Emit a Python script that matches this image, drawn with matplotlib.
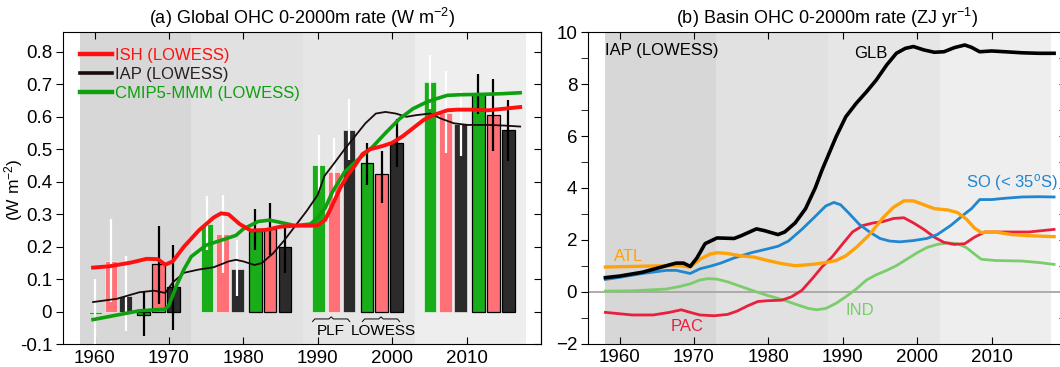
# plot.py
# Two-panel OHC rate figure: (a) global 0-2000m rate bars + LOWESS curves,
# (b) basin OHC 0-2000m rate from IAP (LOWESS).

import matplotlib
matplotlib.use("Agg")

import matplotlib.pyplot as plt
from matplotlib.lines import Line2D

plt.rcParams["font.family"] = ["Liberation Sans", "DejaVu Sans"]
plt.rcParams["mathtext.default"] = "regular"


# ---- shared period shading ----
PERIOD_STARTS = [1958, 1973, 1988, 2003]
PERIOD_LEN = 15
PERIOD_COLORS = ["#d7d7d7", "#e1e1e1", "#e6e6e6", "#eeeeee"]

# ---- panel (a) bars: one value per period ----
plf_cmip = [-0.007, 0.27, 0.453, 0.707]
plf_ish = [0.157, 0.24, 0.43, 0.612]
plf_iap = [0.048, 0.133, 0.56, 0.577]
low_cmip = [-0.01, 0.25, 0.458, 0.67]
low_ish = [0.146, 0.255, 0.425, 0.607]
low_iap = [0.075, 0.2, 0.52, 0.56]

# error bar ranges (low, high)
plf_cmip_err = [(-0.12, 0.10), (0.19, 0.355), (0.37, 0.543), (0.625, 0.79)]
plf_ish_err = [(0.03, 0.287), (0.12, 0.36), (0.33, 0.536), (0.49, 0.74)]
plf_iap_err = [(-0.058, 0.172), (0.05, 0.22), (0.468, 0.656), (0.48, 0.68)]
low_cmip_err = [(-0.073, 0.06), (0.19, 0.315), (0.39, 0.52), (0.61, 0.733)]
low_ish_err = [(0.025, 0.265), (0.175, 0.335), (0.335, 0.496), (0.495, 0.717)]
low_iap_err = [(-0.055, 0.205), (0.12, 0.275), (0.445, 0.594), (0.465, 0.653)]

# ---- panel (a) LOWESS curves ----
ish_years = [1959.8, 1962, 1965, 1967, 1968.5, 1969.5, 1970.5, 1972, 1974, 1976,
             1977, 1978, 1979.5, 1981, 1983, 1985, 1987, 1989, 1990, 1991,
             1992, 1993, 1994, 1995, 1996, 1997, 1998.7, 2000, 2001.4, 2002.8,
             2004.2, 2005.5, 2007.4, 2008.7, 2010.6, 2012.9, 2015.1, 2017.2]
ish_vals = [0.136, 0.14, 0.152, 0.163, 0.162, 0.145, 0.155, 0.2, 0.25, 0.29,
            0.303, 0.3, 0.27, 0.25, 0.252, 0.262, 0.265, 0.265, 0.266, 0.283,
            0.33, 0.38, 0.42, 0.45, 0.485, 0.5, 0.51, 0.52, 0.54, 0.565,
            0.59, 0.605, 0.62, 0.622, 0.622, 0.62, 0.625, 0.63]

iap_years = [1959.8, 1963, 1966, 1968, 1969.5, 1970.5, 1972, 1974, 1976, 1978,
             1979, 1980, 1981.5, 1982.5, 1984, 1985.5, 1987, 1988.5, 1990, 1990.9,
             1992.3, 1993.6, 1995, 1996.4, 1997.8, 1999.1, 2000.5, 2001.9, 2003.2, 2005.1,
             2006.5, 2008.3, 2010.1, 2012.9, 2015.1, 2017.2]
iap_vals = [0.03, 0.04, 0.06, 0.065, 0.058, 0.09, 0.12, 0.13, 0.137, 0.155,
            0.16, 0.155, 0.144, 0.15, 0.18, 0.22, 0.265, 0.31, 0.36, 0.418,
            0.46, 0.5, 0.54, 0.58, 0.61, 0.615, 0.61, 0.6, 0.605, 0.61,
            0.595, 0.58, 0.575, 0.575, 0.573, 0.57]

cmip_years = [1959.8, 1963, 1966, 1969.5, 1970, 1971, 1972, 1973, 1975, 1977,
              1979, 1980, 1982, 1983.5, 1985, 1987, 1989, 1990, 1991, 1992,
              1993.6, 1995.5, 1997.3, 1999.1, 2001, 2002.8, 2004.6, 2006, 2007.4, 2009.2,
              2012, 2014.7, 2017.2]
cmip_vals = [-0.024, -0.01, 0.003, 0.008, 0.02, 0.08, 0.13, 0.17, 0.205, 0.22,
             0.235, 0.255, 0.278, 0.282, 0.275, 0.265, 0.27, 0.29, 0.32, 0.37,
             0.43, 0.47, 0.506, 0.55, 0.594, 0.625, 0.645, 0.656, 0.666, 0.668,
             0.669, 0.671, 0.674]

# ---- panel (b) basin curves ----
glb_years = [1958.1, 1960, 1963.1, 1966.3, 1967.6, 1968.6, 1969.5, 1970.4, 1971.5, 1973.1,
             1975.4, 1976.3, 1978.4, 1979.5, 1981.3, 1982.2, 1983.6, 1985, 1986.3, 1987.2,
             1989.1, 1990.4, 1991.8, 1993.2, 1994.5, 1995.9, 1997.2, 1998.4, 1999.5, 2000.9,
             2002.3, 2003.6, 2005, 2006.4, 2007.3, 2008.4, 2010, 2011.8, 2014.1, 2016.4,
             2018.4]
glb_vals = [0.54, 0.6, 0.75, 1.0, 1.1, 1.1, 0.97, 1.3, 1.85, 2.07,
            2.05, 2.15, 2.42, 2.35, 2.2, 2.3, 2.65, 3.2, 4.0, 4.68,
            5.97, 6.74, 7.26, 7.71, 8.16, 8.74, 9.19, 9.38, 9.45, 9.32,
            9.23, 9.25, 9.41, 9.51, 9.42, 9.25, 9.28, 9.25, 9.21, 9.19,
            9.19]

so_years = [1958.1, 1960, 1963.1, 1966.3, 1967.6, 1969.5, 1970.8, 1972.2, 1973.6, 1975.4,
            1977.7, 1979.9, 1981.3, 1982.7, 1984.5, 1986.3, 1987.7, 1988.8, 1989.7, 1990.9,
            1992.2, 1993.6, 1995, 1996.3, 1997.7, 1999.5, 2001.3, 2002.7, 2004.5, 2006.4,
            2007.3, 2008.4, 2010, 2011.8, 2014.1, 2016.4, 2018.4]
so_vals = [0.47, 0.55, 0.7, 0.82, 0.82, 0.7, 0.88, 0.98, 1.1, 1.3,
           1.5, 1.65, 1.75, 1.95, 2.4, 2.9, 3.3, 3.44, 3.35, 3.0,
           2.6, 2.3, 2.05, 1.95, 1.92, 1.97, 2.05, 2.2, 2.55, 3.0,
           3.2, 3.55, 3.55, 3.6, 3.65, 3.66, 3.65]

atl_years = [1958.1, 1961.7, 1966.3, 1968.1, 1969.5, 1970.8, 1972.2, 1973.1, 1974.5, 1976.3,
             1978.1, 1979.9, 1981.8, 1983.6, 1985.9, 1987.7, 1989.1, 1990.4, 1991.8, 1993.6,
             1995.4, 1996.8, 1998.2, 1999.5, 2000.9, 2002.3, 2004.1, 2005.4, 2006.6, 2007.7,
             2008.6, 2010.5, 2012.7, 2015.5, 2018.4]
atl_vals = [0.95, 0.97, 1.0, 1.0, 0.95, 1.25, 1.45, 1.5, 1.47, 1.38,
            1.33, 1.2, 1.08, 1.0, 1.05, 1.12, 1.2, 1.38, 1.7, 2.2,
            2.85, 3.25, 3.5, 3.5, 3.35, 3.2, 3.15, 3.05, 2.8, 2.45,
            2.28, 2.3, 2.2, 2.15, 2.12]

pac_years = [1958.1, 1961.7, 1964.5, 1966.7, 1968.3, 1969.5, 1970.8, 1972.7, 1974.5, 1975.8,
             1977.2, 1978.6, 1979.9, 1981.8, 1983.1, 1984.5, 1985.9, 1987.2, 1988.6, 1990,
             1991.3, 1992.7, 1994.1, 1995.4, 1996.8, 1998.2, 1999.5, 2000.9, 2002.3, 2003.6,
             2005, 2006.4, 2007.7, 2009.1, 2011.8, 2015, 2018.4]
pac_vals = [-0.8, -0.9, -0.9, -0.8, -0.7, -0.8, -0.9, -0.93, -0.88, -0.75,
            -0.55, -0.38, -0.35, -0.33, -0.2, 0.05, 0.5, 0.95, 1.35, 1.85,
            2.3, 2.55, 2.65, 2.7, 2.82, 2.85, 2.65, 2.4, 2.1, 1.9,
            1.82, 1.85, 2.1, 2.3, 2.3, 2.3, 2.4]

ind_years = [1958.1, 1961.7, 1966.3, 1968.1, 1969.5, 1970.8, 1971.9, 1973.1, 1974.5, 1976.3,
             1978.1, 1979.9, 1981.8, 1983.6, 1985.4, 1986.5, 1987.7, 1989.1, 1990.4, 1991.8,
             1993.2, 1994.5, 1995.9, 1997.2, 1998.6, 2000, 2001.3, 2002.7, 2004.1, 2005.4,
             2006.6, 2007.7, 2008.6, 2010.5, 2014.1, 2016.4, 2018.4]
ind_vals = [0.02, 0.03, 0.1, 0.2, 0.3, 0.45, 0.5, 0.48, 0.38, 0.2,
            0.02, -0.15, -0.3, -0.48, -0.65, -0.7, -0.65, -0.45, -0.2, 0.1,
            0.45, 0.65, 0.82, 1.0, 1.25, 1.5, 1.7, 1.82, 1.88, 1.85,
            1.7, 1.45, 1.25, 1.2, 1.18, 1.12, 1.05]

# bar layout inside each 15-yr period
BAR_OFFSETS = [2.1, 4.2, 6.2, 8.6, 10.6, 12.6]
BAR_WIDTH = 1.7

GREEN_BAR = "#19ad19"
PINK_BAR = "#ff7177"
BLACK_BAR = "#2b2b2b"

XLIM = (1955.8, 2020.0)
TICK_FS = 13.5


def shade_periods(ax):
    for start, color in zip(PERIOD_STARTS, PERIOD_COLORS):
        ax.axvspan(start, start + PERIOD_LEN, color=color, lw=0, zorder=0)


def draw_bars(ax, values, errors, idx, color, edge, err_color, edge_lw):
    xs = [s + BAR_OFFSETS[idx] for s in PERIOD_STARTS]
    ax.bar(xs, values, width=BAR_WIDTH, color=color, edgecolor=edge,
           linewidth=edge_lw, zorder=2)
    for x, (lo, hi) in zip(xs, errors):
        ax.plot([x, x], [lo, hi], color=err_color, lw=1.6, zorder=3,
                solid_capstyle="butt")


def draw_brace(ax, x0, x1, y, h):
    xm = (x0 + x1) / 2
    ax.plot([x0, x0 + 0.3, xm - 0.3, xm, xm + 0.3, x1 - 0.3, x1],
            [y - h, y, y, y + h * 0.8, y, y, y - h],
            color="black", lw=0.7, zorder=4, clip_on=False)


fig = plt.figure(figsize=(10.6, 3.67), dpi=100)

# ---------------- panel (a) ----------------
ax1 = fig.add_axes([63.3 / 1060, (367 - 344.3) / 367, (541 - 63.3) / 1060, 312 / 367])
shade_periods(ax1)

draw_bars(ax1, plf_cmip, plf_cmip_err, 0, GREEN_BAR, "white", "white", 0.4)
draw_bars(ax1, plf_ish, plf_ish_err, 1, PINK_BAR, "white", "white", 0.4)
draw_bars(ax1, plf_iap, plf_iap_err, 2, BLACK_BAR, "white", "white", 0.4)
draw_bars(ax1, low_cmip, low_cmip_err, 3, GREEN_BAR, "black", "black", 0.9)
draw_bars(ax1, low_ish, low_ish_err, 4, PINK_BAR, "black", "black", 0.9)
draw_bars(ax1, low_iap, low_iap_err, 5, BLACK_BAR, "black", "black", 0.9)

ax1.plot(iap_years, iap_vals, color="#1a0b0b", lw=1.3, zorder=5)
ax1.plot(cmip_years, cmip_vals, color="#0ea00e", lw=2.6, zorder=6)
ax1.plot(ish_years, ish_vals, color="#ff1010", lw=2.8, zorder=7)

# PLF / LOWESS labels under the 1988-2003 period
p3 = PERIOD_STARTS[2]
draw_brace(ax1, p3 + BAR_OFFSETS[0] - 0.8, p3 + BAR_OFFSETS[2] + 0.1, -0.022, 0.008)
draw_brace(ax1, p3 + BAR_OFFSETS[3] - 0.6, p3 + BAR_OFFSETS[5] + 0.4, -0.022, 0.008)
ax1.text(p3 + BAR_OFFSETS[1] - 0.5, -0.038, "PLF",
         ha="center", va="top", fontsize=11)
ax1.text(p3 + BAR_OFFSETS[4] + 0.2, -0.038, "LOWESS",
         ha="center", va="top", fontsize=11)

ax1.set_xlim(*XLIM)
ax1.set_ylim(-0.1, 0.86)
ax1.set_xticks([1960, 1970, 1980, 1990, 2000, 2010])
y_ticks_a = [-0.1, 0, 0.1, 0.2, 0.3, 0.4, 0.5, 0.6, 0.7, 0.8]
ax1.set_yticks(y_ticks_a)
ax1.set_yticklabels(["-0.1", "0", "0.1", "0.2", "0.3", "0.4", "0.5", "0.6", "0.7", "0.8"])
ax1.tick_params(axis="x", direction="in", top=True, bottom=True, length=5,
                labelsize=TICK_FS, pad=4)
ax1.tick_params(axis="y", direction="out", left=True, right=False, length=5,
                labelsize=TICK_FS, pad=3)
right_a = ax1.secondary_yaxis("right")
right_a.set_yticks(y_ticks_a)
right_a.tick_params(direction="in", length=5, labelright=False)
fig.text(14 / 1060, (367 - 190) / 367, "(W m$^{-2}$)", rotation=90,
         ha="center", va="center", fontsize=12.5)
ax1.set_title("(a) Global OHC 0-2000m rate (W m$^{-2}$)", fontsize=13, pad=6)

handles = [
    Line2D([], [], color="#ff1010", lw=3.2),
    Line2D([], [], color="#1a0b0b", lw=2.6),
    Line2D([], [], color="#0ea00e", lw=3.2),
]
labels = ["ISH (LOWESS)", "IAP (LOWESS)", "CMIP5-MMM (LOWESS)"]
leg = ax1.legend(handles, labels, loc="upper left", bbox_to_anchor=(0.035, 0.95),
                 frameon=False, fontsize=12, handlelength=1.9, handletextpad=0.2,
                 labelspacing=0.25, borderpad=0, borderaxespad=0)
for txt, col in zip(leg.get_texts(), ["#ff1010", "#2a2020", "#0ea00e"]):
    txt.set_color(col)

# ---------------- panel (b) ----------------
ax2 = fig.add_axes([588.3 / 1060, (367 - 343.5) / 367, (1066 - 588.3) / 1060, 311.2 / 367])
shade_periods(ax2)
ax2.axhline(0, color="#a9a5a5", lw=1.3, zorder=1)

ax2.plot(ind_years, ind_vals, color="#7bcc6b", lw=2.0, zorder=3)
ax2.plot(pac_years, pac_vals, color="#ea1f3d", lw=2.0, zorder=3)
ax2.plot(so_years, so_vals, color="#1f86d0", lw=2.0, zorder=4)
ax2.plot(atl_years, atl_vals, color="#ffa20a", lw=2.4, zorder=4)
ax2.plot(glb_years, glb_vals, color="black", lw=2.6, zorder=5)

ax2.text(1958.0, 9.3, "IAP (LOWESS)", fontsize=12, va="center", ha="left")
ax2.text(1993.8, 9.2, "GLB", fontsize=12, va="center", ha="center")
ax2.text(2006.5, 4.19, "SO (< 35$^o$S)", fontsize=12, va="center", ha="left",
         color="#1f86d0")
ax2.text(1959.3, 1.35, "ATL", fontsize=12, va="center", ha="left", color="#ffa20a")
ax2.text(1966.9, -1.35, "PAC", fontsize=12, va="center", ha="left", color="#ea1f3d")
ax2.text(1990.4, -0.73, "IND", fontsize=12, va="center", ha="left", color="#7bcc6b")

ax2.set_xlim(*XLIM)
ax2.set_ylim(-2, 10)
ax2.set_xticks([1960, 1970, 1980, 1990, 2000, 2010])
ax2.set_yticks([-2, 0, 2, 4, 6, 8, 10])
ax2.set_yticks(list(range(-2, 11)), minor=True)
ax2.tick_params(axis="x", direction="in", top=True, bottom=True, length=5,
                labelsize=TICK_FS, pad=4)
ax2.tick_params(axis="y", which="both", direction="out", left=True, right=False,
                length=5, labelsize=TICK_FS, pad=3)
right_b = ax2.secondary_yaxis("right")
right_b.set_yticks(list(range(-2, 11)))
right_b.tick_params(direction="in", length=5, labelright=False)
ax2.set_title("(b) Basin OHC 0-2000m rate (ZJ yr$^{-1}$)", fontsize=13, pad=6,
              x=(1987.9 - XLIM[0]) / (XLIM[1] - XLIM[0]))

fig.savefig("out.png", dpi=100)
